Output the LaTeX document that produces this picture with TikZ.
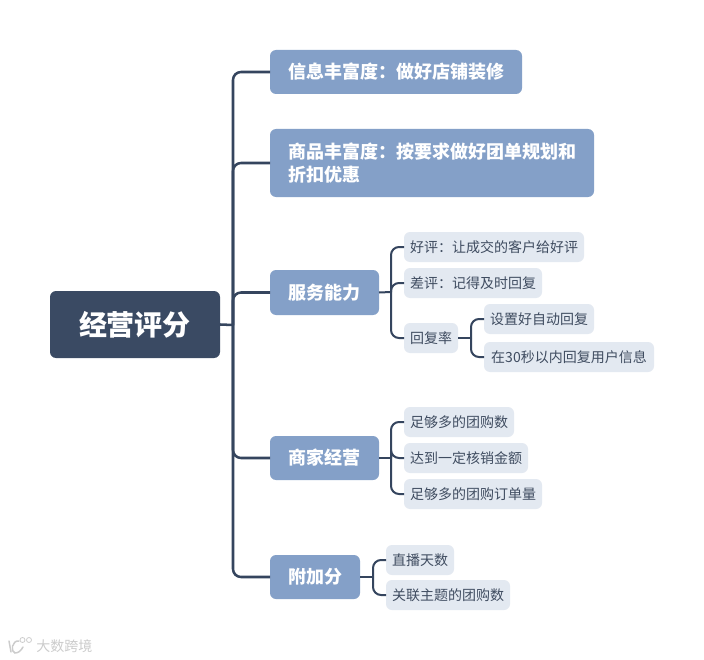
\documentclass[tikz,border=0pt]{standalone}
\usepackage{fontspec}
\setmainfont{Noto Sans CJK SC}
\definecolor{rootc}{HTML}{3A4A63}
\definecolor{branchc}{HTML}{84A0C8}
\definecolor{leafc}{HTML}{E3E9F1}
\definecolor{linec}{HTML}{35455E}
\definecolor{leaftext}{HTML}{3F4C60}
\tikzset{
  x=0.75pt,y=-0.75pt,
  boxbase/.style={anchor=north west,inner sep=0pt,outer sep=0pt},
  rootbox/.style={boxbase,fill=rootc,rounded corners=4.5pt,text=white,font=\fontsize{21}{26}\selectfont\bfseries,align=center},
  branchbox/.style={boxbase,fill=branchc,rounded corners=4.5pt,text=white,font=\fontsize{13.5}{17.2}\selectfont\bfseries},
  leafbox/.style={boxbase,fill=leafc,rounded corners=4.5pt,text=leaftext,font=\fontsize{10.5}{13}\selectfont},
  conn/.style={draw=linec,line width=1.9pt,rounded corners=6pt},
  subconn/.style={draw=linec,line width=1.5pt,rounded corners=6pt},
  marktext/.style={inner sep=0pt,text=black!20,font=\fontsize{10.5}{12}\selectfont}
}
\newcommand{\bx}[7]{% style, name, x1,y1,x2,y2, text
  \node[#1,minimum width=(#5-#3)*0.75pt,minimum height=(#6-#4)*0.75pt] (#2) at (#3,#4) {#7};}
\begin{document}
\begin{tikzpicture}
\useasboundingbox[fill=white] (0,0) rectangle (704,660);
% root
\bx{rootbox}{root}{50}{291}{220}{358}{经营评分}
% branches
\bx{branchbox}{info}{270}{50}{522}{94}{信息丰富度：做好店铺装修}
\bx{branchbox,align=left,inner xsep=13.5pt,text width=216pt}{goods}{270}{129}{594}{197}{商品丰富度：按要求做好团单规划和\\折扣优惠}
\bx{branchbox}{service}{270}{270}{379}{315}{服务能力}
\bx{branchbox}{merchant}{270}{436}{379}{480}{商家经营}
\bx{branchbox}{bonus}{270}{555}{360}{599}{附加分}
% leaves
\bx{leafbox}{good}{404}{232}{584}{262}{好评：让成交的客户给好评}
\bx{leafbox}{bad}{404}{268}{542}{298}{差评：记得及时回复}
\bx{leafbox}{rate}{404}{323}{458}{353}{回复率}
\bx{leafbox}{auto}{484}{304}{594}{334}{设置好自动回复}
\bx{leafbox}{sec}{484}{342}{654}{372}{在30秒以内回复用户信息}
\bx{leafbox}{m1}{404}{407}{514}{437}{足够多的团购数}
\bx{leafbox}{m2}{404}{443}{528}{473}{达到一定核销金额}
\bx{leafbox}{m3}{404}{479}{542}{509}{足够多的团购订单量}
\bx{leafbox}{b1}{386}{545}{454}{575}{直播天数}
\bx{leafbox}{b2}{386}{580}{510}{610}{关联主题的团购数}
% trunk connectors
\coordinate (tr) at (233,325);
\draw[conn] (root.east) -- (tr);
\draw[conn] (tr) |- (info.west);
\draw[conn] (tr) |- (goods.west);
\draw[conn] (tr) |- (service.west);
\draw[conn] (tr) |- (merchant.west);
\draw[conn] (tr) |- (bonus.west);
% service
\coordinate (s) at (391,292);
\draw[subconn] (service.east) -- (s);
\draw[subconn] (s) |- (good.west);
\draw[subconn] (s) |- (bad.west);
\draw[subconn] (s) |- (rate.west);
% rate
\coordinate (r) at (471,338);
\draw[subconn] (rate.east) -- (r);
\draw[subconn] (r) |- (auto.west);
\draw[subconn] (r) |- (sec.west);
% merchant
\coordinate (m) at (391,458);
\draw[subconn] (merchant.east) -- (m);
\draw[subconn] (m) |- (m1.west);
\draw[subconn] (m) |- (m2.west);
\draw[subconn] (m) |- (m3.west);
% bonus
\coordinate (b) at (373,577);
\draw[subconn] (bonus.east) -- (b);
\draw[subconn] (b) |- (b1.west);
\draw[subconn] (b) |- (b2.west);
% watermark
\node[marktext,anchor=west] (wm) at (36,646) {大数跨境};
\draw[black!20,line width=1.1pt,line cap=round] (9,641) -- (11,652);
\draw[black!20,line width=1.1pt,line cap=round] (19,641) .. controls (12,640) and (10,652) .. (15,653) .. controls (18,653) and (21,651) .. (23,647);
\draw[black!20,line width=0.6pt] (22.5,640) circle (2.5) (29,640) circle (2.5);
\end{tikzpicture}
\end{document}
